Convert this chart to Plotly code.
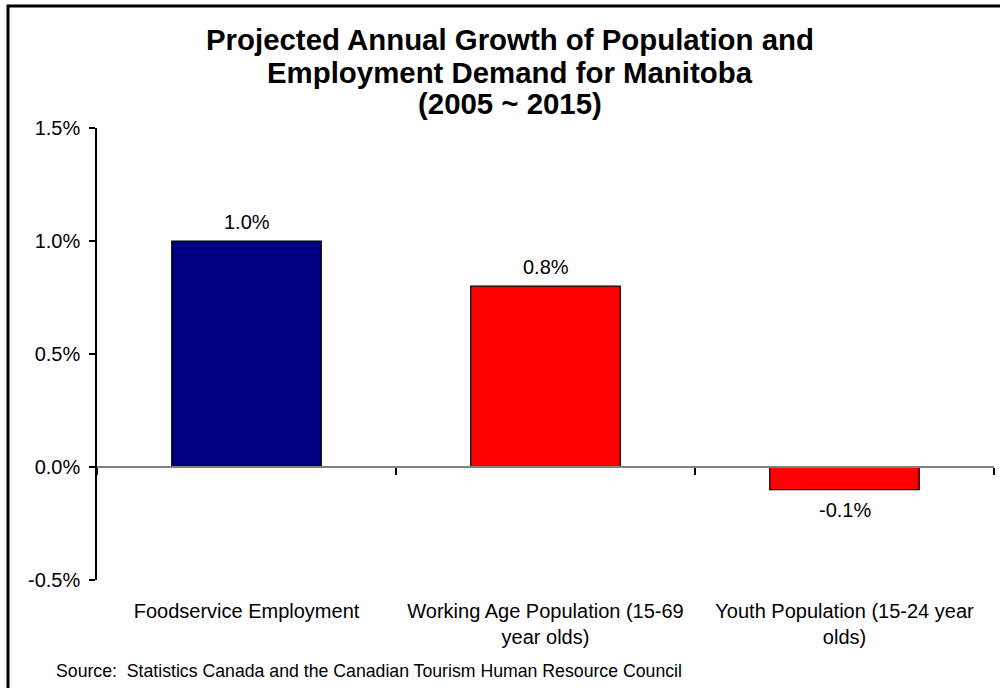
import plotly.graph_objects as go

categories = ["Foodservice Employment", "Working Age Population (15-69 year olds)", "Youth Population (15-24 year olds)"]
tick_labels = ["Foodservice Employment", "Working Age Population (15-69<br>year olds)", "Youth Population (15-24 year<br>olds)"]
growth = [0.010, 0.008, -0.001]
value_labels = ["1.0%", "0.8%", "-0.1%"]
bar_colors = ["#000080", "#FF0000", "#FF0000"]
y_tick_values = [-0.005, 0.0, 0.005, 0.010, 0.015]
y_tick_labels = ["-0.5%", "0.0%", "0.5%", "1.0%", "1.5%"]
title_lines = ["Projected Annual Growth of Population and", "Employment Demand for Manitoba", "(2005 ~ 2015)"]
source_text = "Source:  Statistics Canada and the Canadian Tourism Human Resource Council"

W, H = 1000, 688
L, R, T, B = 97, 994, 128, 580
FONT = "Liberation Sans, Arial, sans-serif"
FS = 20

def px_x(px):
    return (px - L) / (R - L)

def px_y(py):
    return (B - py) / (B - T)

fig = go.Figure()
fig.add_trace(go.Bar(
    x=categories, y=growth,
    marker=dict(color=bar_colors, line=dict(color="#000000", width=1.2)),
    width=0.5, hoverinfo="skip",
))

annotations = []
for cat, val, lab in zip(categories, growth, value_labels):
    annotations.append(dict(
        text=lab, x=cat, y=val, xref="x", yref="y",
        xanchor="center", yanchor="middle", showarrow=False,
        yshift=19 if val >= 0 else -20,
        font=dict(family=FONT, size=FS, color="#000000"),
    ))
for line, yc in zip(title_lines, [40, 72, 104]):
    annotations.append(dict(
        text="<b>" + line + "</b>", x=px_x(510), y=px_y(yc), xref="paper", yref="paper",
        xanchor="center", yanchor="middle", showarrow=False,
        font=dict(family=FONT, size=29.4, color="#000000"),
    ))
annotations.append(dict(
    text=source_text, x=px_x(54), y=px_y(671), xref="paper", yref="paper",
    xanchor="left", yanchor="middle", showarrow=False,
    font=dict(family=FONT, size=17.7, color="#000000"),
))

fig.update_layout(
    width=W, height=H,
    margin=dict(l=L, r=W - R, t=T, b=H - B, pad=0),
    paper_bgcolor="#FFFFFF", plot_bgcolor="#FFFFFF",
    showlegend=False,
    bargap=0.5,
    annotations=annotations,
    font=dict(family=FONT, size=FS, color="#000000"),
    xaxis=dict(
        type="category", categoryorder="array", categoryarray=categories,
        tickvals=categories, ticktext=tick_labels,
        anchor="free", position=0.25,
        showline=True, linecolor="#808080", linewidth=2,
        ticks="outside", tickson="boundaries", ticklen=7, tickwidth=2, tickcolor="#000000",
        ticklabelstandoff=126,
        tickfont=dict(family=FONT, size=FS, color="#000000"),
        showgrid=False, zeroline=False,
    ),
    yaxis=dict(
        range=[-0.005, 0.015], tickvals=y_tick_values, ticktext=y_tick_labels,
        showline=True, linecolor="#000000", linewidth=1.5,
        ticks="outside", ticklen=6, tickcolor="#000000", tickwidth=1.5,
        ticklabelstandoff=5,
        showgrid=False, zeroline=False,
        tickfont=dict(family=FONT, size=FS, color="#000000"),
    ),
    shapes=[dict(
        type="rect", xref="paper", yref="paper",
        x0=px_x(8), x1=px_x(1010), y0=px_y(700), y1=px_y(6),
        line=dict(color="#000000", width=3), fillcolor="rgba(0,0,0,0)", layer="above",
    )],
)

fig.write_html("out.html")
